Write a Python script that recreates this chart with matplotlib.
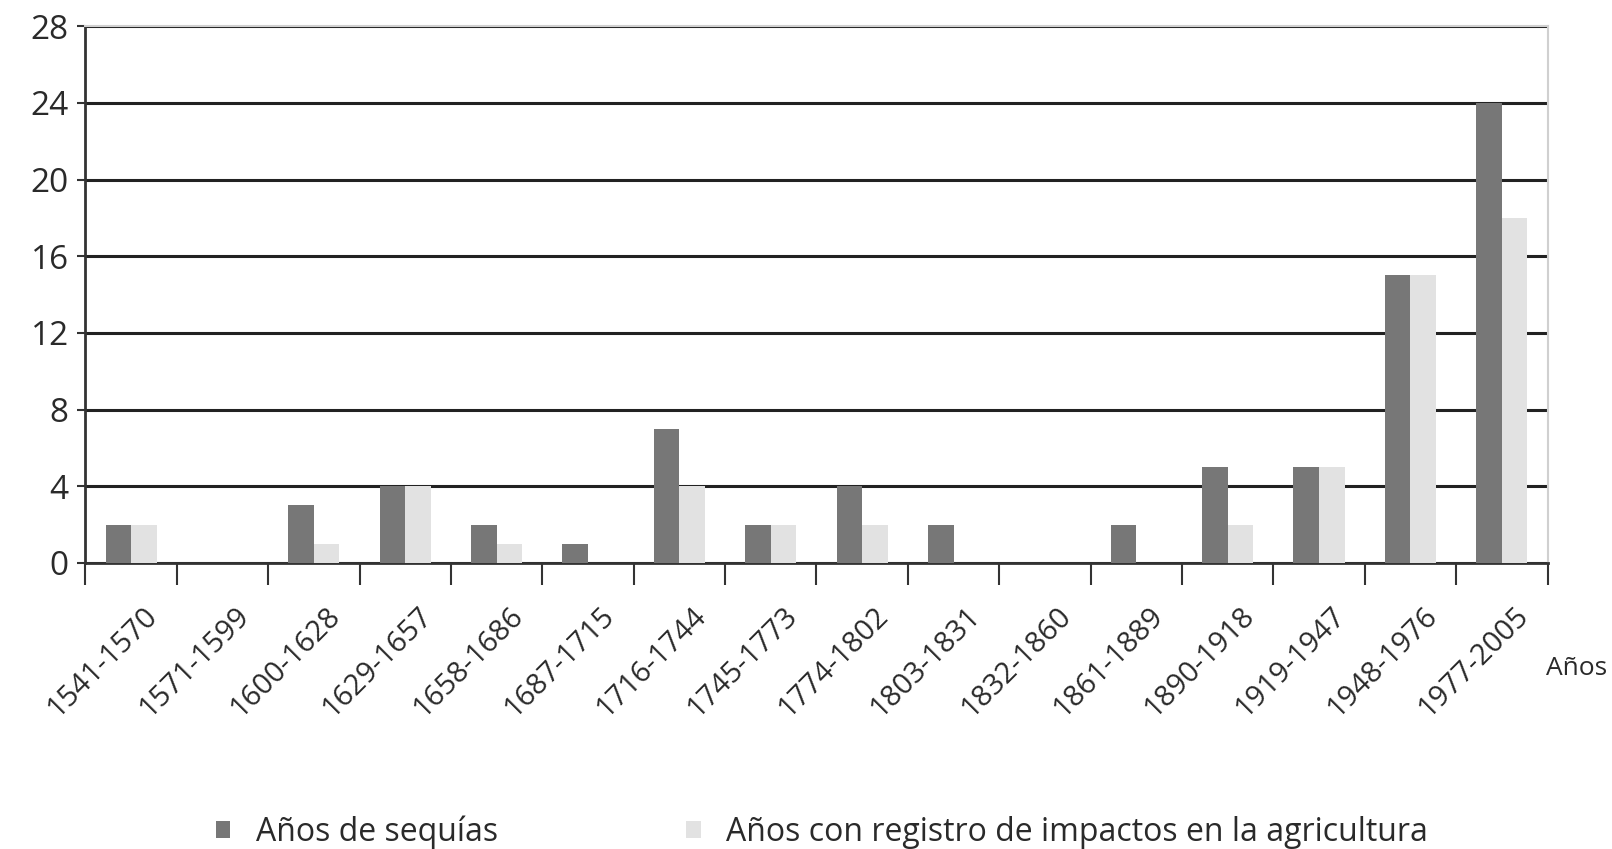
import numpy as np
import matplotlib.pyplot as plt
from matplotlib.transforms import ScaledTranslation

periodos = ["1541-1570", "1571-1599", "1600-1628", "1629-1657", "1658-1686",
            "1687-1715", "1716-1744", "1745-1773", "1774-1802", "1803-1831",
            "1832-1860", "1861-1889", "1890-1918", "1919-1947", "1948-1976",
            "1977-2005"]
sequias = [2, 0, 3, 4, 2, 1, 7, 2, 4, 2, 0, 2, 5, 5, 15, 24]
impactos = [2, 0, 1, 4, 1, 0, 4, 2, 2, 0, 0, 0, 2, 5, 15, 18]

plt.rcParams['font.family'] = ['Open Sans', 'DejaVu Sans']

fig = plt.figure(figsize=(16.12, 8.49), dpi=100)
ax = fig.add_axes([0.053, 0.337, 0.907, 0.632])

x = np.arange(len(periodos))
w = 0.28
oscuro = "#777777"
claro = "#e2e2e2"
b1 = ax.bar(x - w / 2, sequias, w, color=oscuro, zorder=3)
b2 = ax.bar(x + w / 2, impactos, w, color=claro, zorder=3)

ax.set_xlim(-0.5, len(periodos) - 0.5)
ax.set_ylim(0, 28)
ax.set_yticks(range(0, 29, 4))
ax.tick_params(axis='y', labelsize=24, length=6, width=1.5, color="#333333",
               labelcolor="#2a2a2a", pad=6)

# category labels centred on each group, ticks at the group boundaries
ax.set_xticks(x)
ax.set_xticklabels(periodos, rotation=45, ha='right', rotation_mode='anchor',
                   fontsize=21, color="#2a2a2a")
ax.tick_params(axis='x', length=0, pad=28)
shift = ScaledTranslation(0.12, 0, fig.dpi_scale_trans)
for lab in ax.get_xticklabels():
    lab.set_transform(lab.get_transform() + shift)
ax.set_xticks(np.arange(-0.5, len(periodos), 1), minor=True)
ax.tick_params(axis='x', which='minor', length=16, width=1.5, color="#333333")

ax.yaxis.grid(True, color="#222222", linewidth=2.2)
ax.set_axisbelow(True)
for s in ['left', 'bottom']:
    ax.spines[s].set_color("#333333")
    ax.spines[s].set_linewidth(2)
for s in ['top', 'right']:
    ax.spines[s].set_color("#d0d0d0")
    ax.spines[s].set_linewidth(1.5)

fig.text(0.959, 0.213, "Años", fontsize=19, color="#2a2a2a", va='center')

fig.legend([b1, b2], ["Años de sequías",
                      "Años con registro de impactos en la agricultura"],
           loc='center', bbox_to_anchor=(0.51, 0.02), ncol=2, frameon=False,
           fontsize=23, handlelength=0.45, handleheight=0.45, columnspacing=5.9,
           labelcolor="#2a2a2a")

fig.savefig("out.png", dpi=100)
